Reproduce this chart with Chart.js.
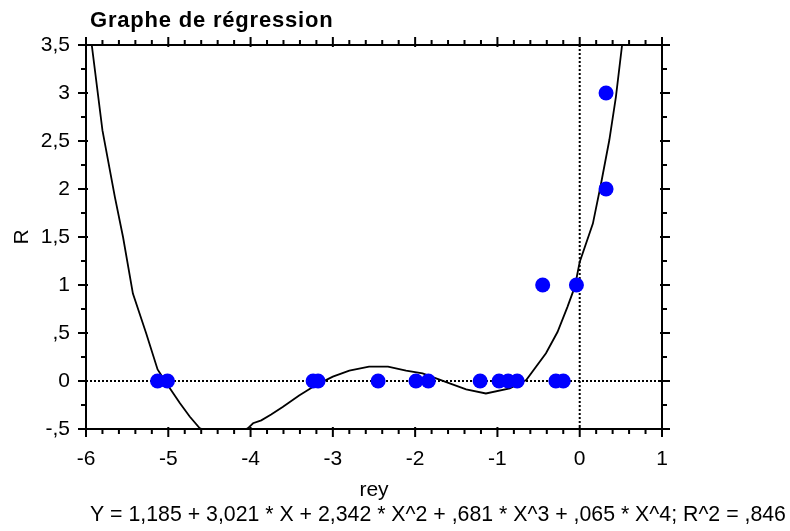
<!DOCTYPE html>
<html>
<head>
<meta charset="utf-8">
<script src="https://cdn.jsdelivr.net/npm/chart.js@4.4.0/dist/chart.umd.min.js"></script>
<style>
  html, body { margin: 0; padding: 0; background: #fff; }
</style>
</head>
<body>
<canvas id="regChart" width="790" height="531"></canvas>
<script>
// observed points (rey, R)
const pointX = [-5.13, -5.01, -3.24, -3.18, -2.45, -1.99, -1.84, -1.21, -0.98, -0.87, -0.76, -0.45, -0.29, -0.2, -0.04, 0.32, 0.32];
const pointY = [0, 0, 0, 0, 0, 0, 0, 0, 0, 0, 0, 1, 0, 0, 1, 3, 2];

// regression curve
const curveX = [-5.93, -5.8, -5.65, -5.55, -5.43, -5.27, -5.13, -5.01, -4.86, -4.74, -4.62, -4.3, -4.03, -3.97, -3.87, -3.75, -3.61, -3.41, -3.2, -3.0, -2.8, -2.56, -2.33, -2.11, -1.91, -1.745, -1.58, -1.38, -1.14, -0.85, -0.65, -0.41, -0.27, -0.15, -0.06, 0.0, 0.16, 0.26, 0.36, 0.44, 0.515];
const curveY = [3.5, 2.61, 1.92, 1.5, 0.91, 0.5, 0.12, -0.04, -0.23, -0.37, -0.49, -0.62, -0.49, -0.44, -0.41, -0.35, -0.27, -0.15, -0.04, 0.045, 0.107, 0.15, 0.15, 0.107, 0.08, 0.028, -0.024, -0.087, -0.13, -0.076, 0.01, 0.29, 0.51, 0.77, 0.98, 1.24, 1.64, 2.06, 2.51, 2.96, 3.5];

const xMin = -6, xMax = 1, xMinor = 0.2;
const yMin = -0.5, yMax = 3.5, yMinor = 0.25;

const chartTitle = "Graphe de régression";
const xTitle = "rey";
const yTitle = "R";
const equationText = "Y = 1,185 + 3,021 * X + 2,342 * X^2 + ,681 * X^3 + ,065 * X^4; R^2 = ,846";

const FONT = "'Liberation Sans', Arial, sans-serif";
const FS = 21;

// 0.5 -> ",5", -0.5 -> "-,5", 3.5 -> "3,5"
function fmtNum(v) {
  let s = String(Math.round(v * 100) / 100);
  s = s.replace(/^(-?)0\./, "$1.");
  return s.replace(".", ",");
}

// zero reference lines (dotted)
const zeroLines = {
  id: "zeroLines",
  beforeDatasetsDraw(chart) {
    const ctx = chart.ctx;
    const { left, right, top, bottom } = chart.chartArea;
    const x0 = chart.scales.x.getPixelForValue(0);
    const y0 = chart.scales.y.getPixelForValue(0);
    ctx.save();
    ctx.strokeStyle = "#000";
    ctx.lineWidth = 2;
    ctx.setLineDash([2, 2]);
    ctx.beginPath();
    ctx.moveTo(left, y0);
    ctx.lineTo(right, y0);
    ctx.moveTo(x0, top);
    ctx.lineTo(x0, bottom);
    ctx.stroke();
    ctx.restore();
  },
};

// box around plot + major/minor ticks on all four sides, title and equation text
const frameTicks = {
  id: "frameTicks",
  afterDatasetsDraw(chart) {
    const ctx = chart.ctx;
    const xs = chart.scales.x;
    const ys = chart.scales.y;
    const { left, right, top, bottom } = chart.chartArea;
    ctx.save();
    ctx.strokeStyle = "#000";
    ctx.lineWidth = 2;
    ctx.strokeRect(left, top, right - left, bottom - top);

    ctx.beginPath();
    const nx = Math.round((xMax - xMin) / xMinor);
    for (let i = 0; i <= nx; i++) {
      const px = xs.getPixelForValue(xMin + i * xMinor);
      const len = i % 5 === 0 ? 8 : 5;
      const inner = i % 5 === 0 ? 2 : 0;
      ctx.moveTo(px, bottom - inner);
      ctx.lineTo(px, bottom + len);
      ctx.moveTo(px, top + inner);
      ctx.lineTo(px, top - len);
    }
    const ny = Math.round((yMax - yMin) / yMinor);
    for (let i = 0; i <= ny; i++) {
      const py = ys.getPixelForValue(yMin + i * yMinor);
      const len = i % 2 === 0 ? 8 : 5;
      const inner = i % 2 === 0 ? 2 : 0;
      ctx.moveTo(left + inner, py);
      ctx.lineTo(left - len, py);
      ctx.moveTo(right - inner, py);
      ctx.lineTo(right + len, py);
    }
    ctx.stroke();
    ctx.restore();
  },
  afterDraw(chart) {
    const ctx = chart.ctx;
    ctx.save();
    ctx.fillStyle = "#000";
    ctx.textBaseline = "middle";
    ctx.textAlign = "left";
    ctx.font = "bold 22px " + FONT;
    ctx.letterSpacing = "0.8px";
    ctx.fillText(chartTitle, 90, 21);
    ctx.letterSpacing = "0px";
    ctx.font = "21.3px " + FONT;
    ctx.fillText(equationText, 90, 515);
    ctx.restore();
  },
};

const ctx = document.getElementById("regChart").getContext("2d");
new Chart(ctx, {
  type: "scatter",
  data: {
    datasets: [
      {
        label: "R",
        data: pointX.map((x, i) => ({ x: x, y: pointY[i] })),
        pointRadius: 7.5,
        pointHoverRadius: 7.5,
        backgroundColor: "#0000ff",
        borderWidth: 0,
        order: 0,
      },
      {
        label: "fit",
        data: curveX.map((x, i) => ({ x: x, y: curveY[i] })),
        showLine: true,
        borderColor: "#000",
        borderWidth: 1.8,
        pointRadius: 0,
        pointHoverRadius: 0,
        tension: 0,
        fill: false,
        order: 1,
      },
    ],
  },
  options: {
    responsive: false,
    animation: false,
    devicePixelRatio: 1,
    layout: { padding: { left: 0, top: 45, right: 128, bottom: 0 } },
    plugins: {
      legend: { display: false },
      tooltip: { enabled: false },
      title: { display: false },
    },
    scales: {
      x: {
        type: "linear",
        min: xMin,
        max: xMax,
        grid: { display: false, drawTicks: false },
        border: { display: false },
        ticks: {
          stepSize: 1,
          autoSkip: false,
          maxRotation: 0,
          padding: 18,
          color: "#000",
          font: { family: FONT, size: FS },
          callback: (v) => String(v),
        },
        title: {
          display: true,
          text: xTitle,
          color: "#000",
          font: { family: FONT, size: FS },
          padding: { top: 0, bottom: 28 },
        },
        afterFit: (s) => { s.height = 102; },
      },
      y: {
        type: "linear",
        min: yMin,
        max: yMax,
        grid: { display: false, drawTicks: false },
        border: { display: false },
        ticks: {
          stepSize: 0.5,
          autoSkip: false,
          padding: 16,
          color: "#000",
          font: { family: FONT, size: FS },
          callback: (v) => fmtNum(v),
        },
        title: {
          display: true,
          text: yTitle,
          color: "#000",
          font: { family: FONT, size: FS },
          padding: { top: 10, bottom: 0 },
        },
        afterFit: (s) => { s.width = 86; },
      },
    },
  },
  plugins: [zeroLines, frameTicks],
});
</script>
</body>
</html>
